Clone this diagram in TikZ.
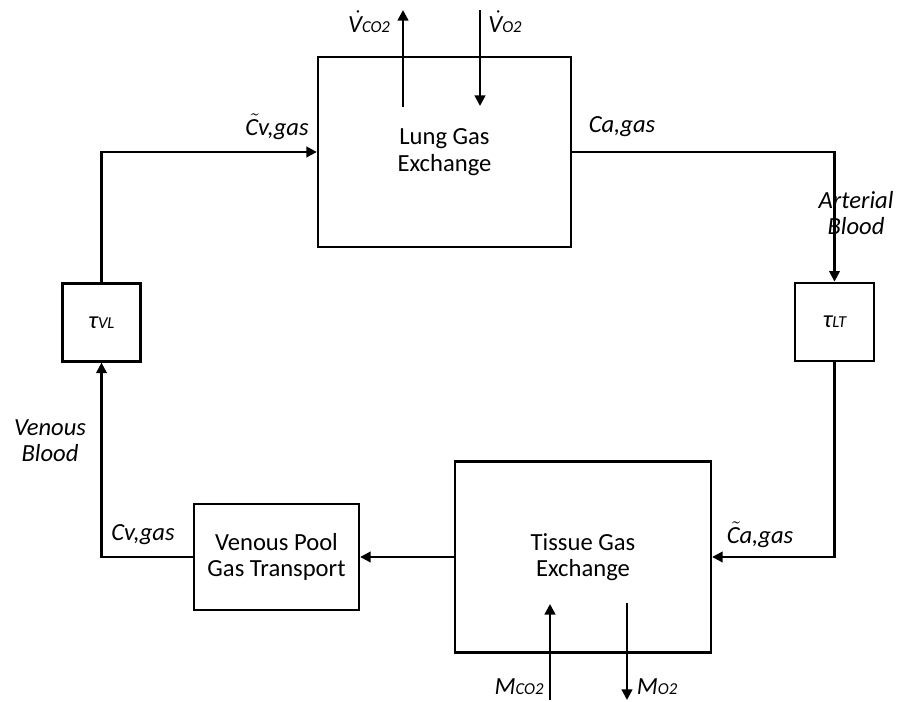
\documentclass[tikz,border=0pt]{standalone}
\usepackage{fontspec}
\setmainfont{Carlito}
\usetikzlibrary{arrows.meta}
\newcommand{\sm}[1]{{\fontsize{9.5}{10}\selectfont #1}}
\newcommand{\acc}[2]{\rlap{\kern0.12em$#1{\phantom{\mbox{#2}}}$}#2}

\begin{document}
\begin{tikzpicture}[>={Triangle[length=6pt,width=6pt]}, line width=1.3pt,
  font=\fontsize{14}{15}\selectfont,
  blk/.style={draw, align=center, inner sep=0pt},
  lbl/.style={font=\fontsize{14}{15}\selectfont\itshape, align=center, inner sep=1pt}]
\useasboundingbox (0,0) rectangle (17.98,14.04);
% boxes
\node[blk, minimum width=5.06cm, minimum height=3.8cm] (lung) at (8.89,11.0) {Lung Gas\\Exchange};
\node[blk, minimum width=5.12cm, minimum height=3.82cm] (tissue) at (11.66,2.9) {Tissue Gas\\Exchange};
\node[blk, minimum width=3.3cm, minimum height=2.12cm] (venous) at (5.53,2.9) {Venous Pool\\Gas Transport};
\node[blk, minimum size=1.56cm] (tauVL) at (2.03,7.59) {\itshape τ\sm{VL}};
\node[blk, minimum size=1.57cm] (tauLT) at (16.69,7.6) {\itshape τ\sm{LT}};
% loop
\draw[->] (tauVL.north) |- (lung.west);
\draw[->] (lung.east) -| (tauLT.north);
\draw[->] (tauLT.south) |- (tissue.east);
\draw[->] (tissue.west) -- (venous.east);
\draw[->] (venous.west) -| (tauVL.south);
% gas in/out
\coordinate (vco2in) at (8.06,11.9);
\coordinate (vco2out) at (8.06,13.84);
\coordinate (vo2in) at (9.6,13.84);
\coordinate (vo2out) at (9.6,11.92);
\coordinate (mco2in) at (11.0,0.04);
\coordinate (mco2out) at (11.0,1.96);
\coordinate (mo2in) at (12.54,1.98);
\coordinate (mo2out) at (12.54,0.04);
\draw[->] (vco2in) -- (vco2out);
\draw[->] (vo2in) -- (vo2out);
\draw[->] (mco2in) -- (mco2out);
\draw[->] (mo2in) -- (mo2out);
% labels
\node[lbl] (lvco2) at (7.38,13.6) {\acc{\dot}{V}\sm{CO2}};
\node[lbl] (lvo2) at (10.1,13.6) {\acc{\dot}{V}\sm{O2}};
\node[lbl] (lcvt) at (5.54,11.5) {\acc{\tilde}{C}v,gas};
\node[lbl] (lca) at (12.44,11.5) {Ca,gas};
\node[lbl] (lart) at (17.12,9.78) {Arterial\\Blood};
\node[lbl] (lven) at (1.0,5.22) {Venous\\Blood};
\node[lbl] (lcv) at (2.86,3.34) {Cv,gas};
\node[lbl] (lcat) at (15.2,3.34) {\acc{\tilde}{C}a,gas};
\node[lbl] (lmco2) at (10.38,0.3) {M\sm{CO2}};
\node[lbl] (lmo2) at (13.14,0.3) {M\sm{O2}};
\end{tikzpicture}
\end{document}
